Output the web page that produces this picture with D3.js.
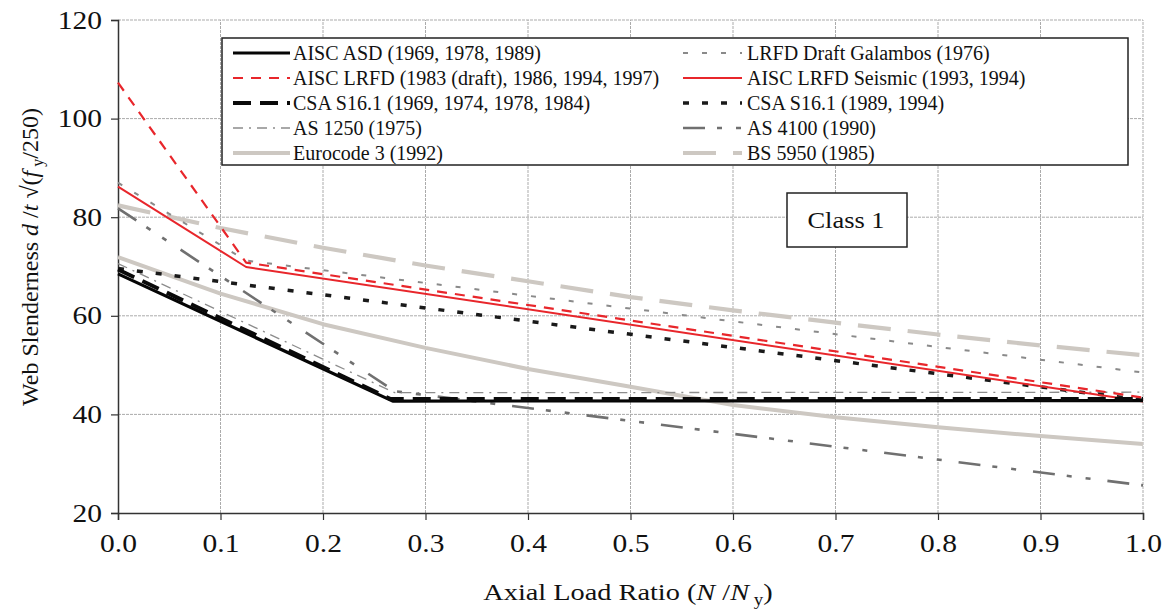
<!DOCTYPE html>
<html><head><meta charset="utf-8">
<script src="https://cdn.jsdelivr.net/npm/d3@7"></script>
<style>body{margin:0;background:#fff}svg{display:block}svg text{font-family:"Liberation Serif","Times New Roman",serif !important;fill:#111}</style>
</head><body>
<script>
// ---- data ----
const xTickLabels = ["0.0","0.1","0.2","0.3","0.4","0.5","0.6","0.7","0.8","0.9","1.0"];
const yTickValues = [20,40,60,80,100,120];
const seriesNames = ["AISC ASD (1969, 1978, 1989)","AISC LRFD (1983 (draft), 1986, 1994, 1997)","CSA S16.1 (1969, 1974, 1978, 1984)","AS 1250 (1975)","Eurocode 3 (1992)","LRFD Draft Galambos (1976)","AISC LRFD Seismic (1993, 1994)","CSA S16.1 (1989, 1994)","AS 4100 (1990)","BS 5950 (1985)"];
const aiscAsdX = [0, 0.268, 1.0];      const aiscAsdY = [68.5, 42.7, 42.8];
const aiscLrfdX = [0, 0.125, 1.0];     const aiscLrfdY = [107.3, 70.8, 43.4];
const csaOldX = [0, 0.266, 1.0];       const csaOldY = [69.4, 43.1, 43.1];
const as1250X = [0, 0.27, 1.0];        const as1250Y = [70.6, 44.4, 44.5];
const eurocodeX = [0,0.1,0.2,0.3,0.4,0.5,0.6,0.7,0.8,0.9,1.0];
const eurocodeY = [71.9,64.5,58.3,53.5,49.2,45.6,41.9,39.4,37.4,35.6,34.0];
const galambosX = [0, 0.125, 1.0];     const galambosY = [87.0, 71.2, 48.5];
const seismicX = [0, 0.125, 1.0];      const seismicY = [86.2, 69.9, 42.6];
const csaNewX = [0, 1.0];              const csaNewY = [69.6, 42.9];
const as4100X = [0, 0.27, 1.0];        const as4100Y = [81.8, 44.7, 25.6];
const bs5950X = [0,0.1,0.2,0.3,0.4,0.5,0.6,0.7,0.8,0.9,1.0];
const bs5950Y = [82.4,77.8,73.8,70.2,67.0,63.8,61.1,58.6,56.2,54.0,52.0];
const className = "Class 1";

// ---- styles (by series index) ----
const styles = [
 {c:"#050505", w:3.2, d:null},
 {c:"#e8262b", w:2.2, d:"10,8"},
 {c:"#0a0a0a", w:4, d:"18,9"},
 {c:"#8c8c8c", w:1.3, d:"10,6,2,6"},
 {c:"#cdc8c2", w:4, d:null},
 {c:"#8a8a8a", w:2, d:"5,14"},
 {c:"#e8262b", w:2, d:null},
 {c:"#1a1a1a", w:3.5, d:"6,13"},
 {c:"#707070", w:2.6, d:"22,12,5,14,5,17"},
 {c:"#cdc8c2", w:4.2, d:"33,17"}
];
const seriesX = [aiscAsdX,aiscLrfdX,csaOldX,as1250X,eurocodeX,galambosX,seismicX,csaNewX,as4100X,bs5950X];
const seriesY = [aiscAsdY,aiscLrfdY,csaOldY,as1250Y,eurocodeY,galambosY,seismicY,csaNewY,as4100Y,bs5950Y];
const drawOrder = [4,9,8,3,5,7,6,1,0,2];

const W = 1165, H = 612;
const FONT = '"Liberation Serif","Times New Roman",serif';
const SX = 1.18;
const svg = d3.select("body").append("svg").attr("width",W).attr("height",H);
const x = d3.scaleLinear().domain([0,1]).range([118,1143]);
const y = d3.scaleLinear().domain([20,120]).range([513,20]);

// grid
const grid = svg.append("g");
grid.selectAll("line.v").data(d3.range(1,11).map(i=>i/10)).join("line")
 .attr("x1",d=>x(d)).attr("x2",d=>x(d)).attr("y1",y(20)).attr("y2",y(120))
 .attr("stroke","#ababab").attr("stroke-width",1).attr("stroke-dasharray","3,1");
grid.selectAll("line.h").data(yTickValues.slice(1)).join("line")
 .attr("x1",x(0)).attr("x2",x(1)).attr("y1",d=>y(d)).attr("y2",d=>y(d))
 .attr("stroke","#ababab").attr("stroke-width",1).attr("stroke-dasharray","3,1");

// axes
const xAxis = d3.axisBottom(x).tickValues(d3.range(0,11).map(i=>i/10)).tickFormat((d,i)=>xTickLabels[i]).tickSize(7).tickPadding(14);
const yAxis = d3.axisLeft(y).tickValues(yTickValues).tickSize(7).tickPadding(9);
const gx = svg.append("g").attr("transform",`translate(0,${y(20)})`).call(xAxis);
const gy = svg.append("g").attr("transform",`translate(${x(0)},0)`).call(yAxis);
[gx,gy].forEach(g=>{
  g.attr("font-family",FONT).attr("font-size",25);
  g.select(".domain").attr("stroke","#333").attr("stroke-width",1.5);
  g.selectAll(".tick line").attr("stroke","#333").attr("stroke-width",1.2);
  g.selectAll(".tick text").style("font-size","25px").attr("fill","#111");
});
gx.selectAll(".tick text").attr("transform",`scale(${SX},1)`);
gy.selectAll(".tick text").attr("x",-16/SX).attr("transform",`scale(${SX},1)`);

// lines
const line = d3.line().x(d=>x(d[0])).y(d=>y(d[1]));
const lg = svg.append("g");
drawOrder.forEach(i=>{
  const pts = seriesX[i].map((v,k)=>[v,seriesY[i][k]]);
  lg.append("path").attr("d",line(pts)).attr("fill","none")
    .attr("stroke",styles[i].c).attr("stroke-width",styles[i].w)
    .attr("stroke-dasharray",styles[i].d).attr("stroke-linejoin","round");
});

// legend
const leg = svg.append("g");
leg.append("rect").attr("x",222).attr("y",38).attr("width",906).attr("height",127)
  .attr("fill","#fff").attr("stroke","#222").attr("stroke-width",1.5);
seriesNames.forEach((n,i)=>{
  const col = i<5?0:1, row = i%5;
  const x0 = col?683:233, x1 = col?742:290, tx = col?747:293, cy = 53+row*25;
  leg.append("line").attr("x1",x0).attr("x2",x1).attr("y1",cy).attr("y2",cy)
   .attr("stroke",styles[i].c).attr("stroke-width",styles[i].w).attr("stroke-dasharray",styles[i].d);
  leg.append("text").attr("x",tx).attr("y",cy).attr("dy","0.35em").style("font-size","20px").text(n);
});

// class box
svg.append("rect").attr("x",787).attr("y",193).attr("width",120).attr("height",54)
  .attr("fill","#fff").attr("stroke","#222").attr("stroke-width",1.5);
svg.append("g").attr("transform",`translate(846,220) scale(1.15,1)`)
  .append("text").attr("dy","0.35em").attr("text-anchor","middle").style("font-size","23px").text(className);

// x label
const xl = svg.append("g").attr("transform",`translate(628,600) scale(${SX},1)`)
  .append("text").attr("text-anchor","middle").style("font-size","24px");
xl.append("tspan").text("Axial Load Ratio (");
xl.append("tspan").attr("font-style","italic").text("N");
xl.append("tspan").text(" /");
xl.append("tspan").attr("font-style","italic").text("N");
xl.append("tspan").style("font-size","16px").attr("dy",5).text(" y");
xl.append("tspan").attr("dy",-5).text(")");

// y label
const yl = svg.append("text").attr("transform","translate(38,257) rotate(-90)").attr("text-anchor","middle").style("font-size","24px");
yl.append("tspan").text("Web Slenderness ");
yl.append("tspan").attr("font-style","italic").text("d");
yl.append("tspan").text(" /");
yl.append("tspan").attr("font-style","italic").text("t");
yl.append("tspan").text(" √(");
yl.append("tspan").attr("font-style","italic").text("f");
yl.append("tspan").style("font-size","16px").attr("dy",5).text(" y");
yl.append("tspan").attr("dy",-5).text("/250)");
</script>
</body></html>
